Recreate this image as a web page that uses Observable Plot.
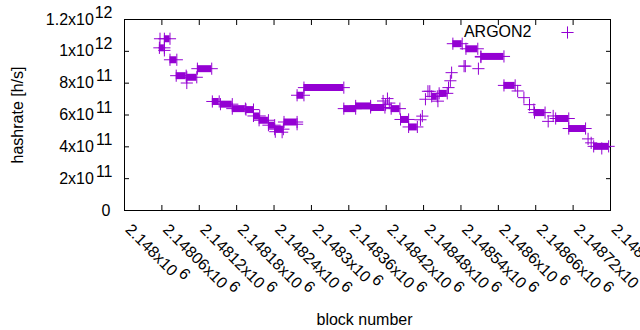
<!DOCTYPE html>
<html><head><meta charset="utf-8">
<script src="https://cdn.jsdelivr.net/npm/d3@7"></script>
<script src="https://cdn.jsdelivr.net/npm/@observablehq/plot@0.6"></script>
<style>html,body{margin:0;padding:0;background:#fff;overflow:hidden}</style>
</head><body><div id="chart"></div>
<script>
// Runs of consecutive blocks sharing one hashrate value (drawn as solid bands of "+" markers)
const runStart = [2148064, 2148056, 2148073, 2148083, 2148100, 2148117, 2148141, 2148154, 2148173, 2148195,
  2148207, 2148216, 2148231, 2148241, 2148256, 2148277, 2148288, 2148352, 2148371, 2148395,
  2148428, 2148443, 2148456, 2148493, 2148505, 2148527, 2148548, 2148572, 2148609, 2148658,
  2148692, 2148713, 2148753];
const runEnd = [2148073, 2148064, 2148084, 2148099, 2148116, 2148140, 2148152, 2148173, 2148194, 2148207,
  2148217, 2148231, 2148241, 2148255, 2148277, 2148288, 2148352, 2148371, 2148395, 2148418,
  2148442, 2148456, 2148470, 2148502, 2148518, 2148542, 2148567, 2148609, 2148627, 2148675,
  2148713, 2148740, 2148777];
const runValue = [10.79e11, 10.22e11, 9.47e11, 8.47e11, 8.37e11, 8.91e11, 6.85e11, 6.68e11, 6.40e11, 6.34e11,
  5.94e11, 5.67e11, 5.36e11, 5.11e11, 5.56e11, 7.24e11, 7.72e11, 6.40e11, 6.57e11, 6.47e11,
  6.40e11, 5.72e11, 5.25e11, 7.17e11, 7.36e11, 10.48e11, 10.16e11, 9.68e11, 7.86e11, 6.15e11,
  5.78e11, 5.15e11, 4.03e11];
// Individual blocks
const pointBlock = [2148057, 2148064, 2148100, 2148242, 2148253, 2148277, 2148415, 2148419, 2148422, 2148425,
  2148475, 2148478, 2148483, 2148487, 2148490, 2148503, 2148520, 2148523, 2148525, 2148545,
  2148547, 2148568, 2148572, 2148631, 2148641, 2148650, 2148657, 2148680, 2148688, 2148744,
  2148749, 2148766];
const pointValue = [10.79e11, 10.06e11, 8.01e11, 4.95e11, 4.92e11, 5.42e11, 6.88e11, 6.65e11, 7.03e11, 6.75e11,
  5.70e11, 5.93e11, 6.99e11, 7.49e11, 7.49e11, 6.87e11, 7.72e11, 8.15e11, 8.66e11, 9.07e11,
  9.07e11, 8.91e11, 9.64e11, 7.51e11, 7.09e11, 6.65e11, 6.34e11, 5.60e11, 5.94e11, 4.50e11,
  4.25e11, 3.90e11];

const xTickValues = [2148000, 2148060, 2148120, 2148180, 2148240, 2148300, 2148360, 2148420, 2148480, 2148540,
  2148600, 2148660, 2148720, 2148780];
const xTickMantissa = ["2.148", "2.14806", "2.14812", "2.14818", "2.14824", "2.1483", "2.14836", "2.14842",
  "2.14848", "2.14854", "2.1486", "2.14866", "2.14872", "2.14878"];
const xTickExponent = "6";
const yTickValues = [0, 2e11, 4e11, 6e11, 8e11, 1e12, 1.2e12];
const yTickMantissa = ["0", "2x10", "4x10", "6x10", "8x10", "1x10", "1.2x10"];
const yTickExponent = ["", "11", "11", "11", "11", "12", "12"];
const seriesName = "ARGON2";
const xTitle = "block number";
const yTitle = "hashrate [h/s]";

const color = "#9400d3";
const font = '"Liberation Sans", Arial, Helvetica, sans-serif';
const FS = 16;
const ctx = document.createElement("canvas").getContext("2d");
ctx.font = `${FS}px ${font}`;
const tw = s => ctx.measureText(s).width;

const runs = runStart.map((s, i) => ({start: s, end: runEnd[i], value: runValue[i]}));
const pts = [
  ...runs.flatMap(r => [{block: r.start, value: r.value}, {block: r.end, value: r.value}]),
  ...pointBlock.map((b, i) => ({block: b, value: pointValue[i]}))
];

const R2 = Math.SQRT1_2;
const mid = 0.32 * FS * R2; // shift introduced by lineAnchor "middle" along the rotated frame
const xLabelMarks = xTickValues.flatMap((t, i) => {
  const mant = xTickMantissa[i] + "x10";
  const w = tw(mant) + 3;
  const h = 6.5;
  const bx = mid, by = 20 - mid;
  return [
    Plot.text([t], {x: d => d, frameAnchor: "bottom", lineAnchor: "middle", text: () => mant, rotate: 45,
      textAnchor: "start", dx: bx, dy: by, fontSize: FS, fill: "black"}),
    Plot.text([t], {x: d => d, frameAnchor: "bottom", lineAnchor: "middle", text: () => xTickExponent, rotate: 45,
      textAnchor: "start", dx: bx + R2 * (w + h), dy: by + R2 * (w - h), fontSize: FS, fill: "black"})
  ];
});

const yLab = yTickValues.map((v, i) => ({v, m: yTickMantissa[i], e: yTickExponent[i]}));
const expW = tw("11");

const chart = Plot.plot({
  width: 640, height: 330,
  marginLeft: 124, marginRight: 30, marginTop: 19, marginBottom: 120,
  x: {domain: [2148000, 2148780], axis: null},
  y: {domain: [0, 1.2e12], axis: null},
  style: {fontFamily: font, fontSize: FS + "px", background: "white", color: "black"},
  marks: [
    Plot.frame({stroke: "black"}),
    Plot.axisX(xTickValues, {anchor: "bottom", tickSize: -5, tickFormat: () => "", label: null, stroke: "black"}),
    Plot.axisX(xTickValues, {anchor: "top", tickSize: -5, tickFormat: () => "", label: null, stroke: "black"}),
    Plot.axisY(yTickValues, {anchor: "left", tickSize: -5, tickFormat: () => "", label: null, stroke: "black"}),
    Plot.axisY(yTickValues, {anchor: "right", tickSize: -5, tickFormat: () => "", label: null, stroke: "black"}),
    ...xLabelMarks,
    Plot.text(yLab.filter(d => d.e), {y: "v", frameAnchor: "left", lineAnchor: "middle", text: "m", textAnchor: "end",
      dx: -(12 + expW + 2), fontSize: FS, fill: "black"}),
    Plot.text(yLab.filter(d => d.e), {y: "v", frameAnchor: "left", lineAnchor: "middle", text: "e", textAnchor: "end",
      dx: -12, dy: -7, fontSize: FS, fill: "black"}),
    Plot.text(yLab.filter(d => !d.e), {y: "v", frameAnchor: "left", lineAnchor: "middle", text: "m", textAnchor: "end",
      dx: -14, fontSize: FS, fill: "black"}),
    Plot.text([yTitle], {frameAnchor: "left", lineAnchor: "middle", text: d => d, rotate: -90, textAnchor: "middle",
      dx: -106.5, fontSize: FS, fill: "black"}),
    Plot.text([xTitle], {frameAnchor: "bottom", lineAnchor: "middle", text: d => d, dx: -3, dy: 109, fontSize: FS, fill: "black"}),
    Plot.ruleY(runs, {y: "value", x1: "start", x2: "end", stroke: color, strokeWidth: 7}),
    Plot.dot(pts, {x: "block", y: "value", symbol: "plus", r: 4, stroke: color, fill: "none", strokeWidth: 1}),
    Plot.text([seriesName], {frameAnchor: "top-right", lineAnchor: "middle", text: d => d, textAnchor: "end",
      dx: -79, dy: 12, fontSize: FS, fill: "black"}),
    Plot.dot([seriesName], {frameAnchor: "top-right", symbol: "plus", r: 4, stroke: color, fill: "none",
      strokeWidth: 1, dx: -43, dy: 13})
  ]
});
document.getElementById("chart").appendChild(chart);
</script>
</body></html>
